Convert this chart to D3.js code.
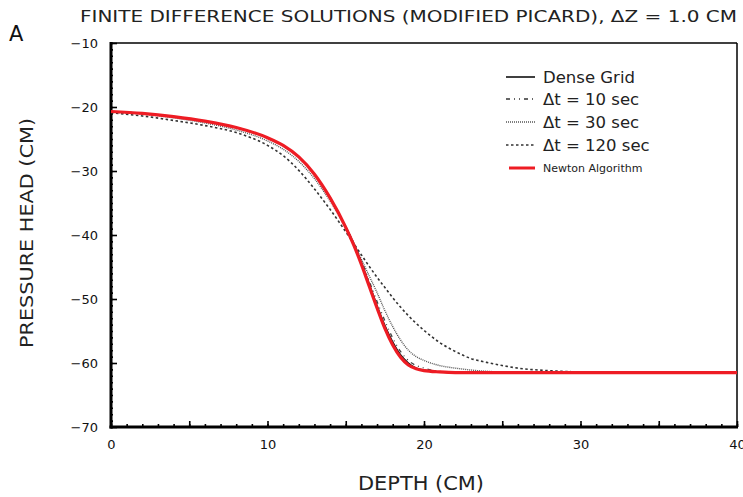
<!DOCTYPE html>
<html><head><meta charset="utf-8">
<script src="https://cdn.jsdelivr.net/npm/d3@7"></script>
<style>body{margin:0;background:#fff}svg{display:block}</style>
</head><body>
<svg id="c" width="743" height="497"></svg>
<script>
// ---- data ----
const newtonX = [0,2,4,6,8,10,11,12,13,14,15,15.5,16,16.5,17,17.5,18,18.5,19,19.5,20,21,22,24,28,32,36,40];
const newtonY = [-20.7,-21.0,-21.5,-22.2,-23.2,-24.8,-26.0,-27.8,-30.5,-34.2,-38.8,-41.5,-44.6,-48.0,-51.4,-54.6,-57.2,-59.1,-60.3,-60.9,-61.2,-61.4,-61.5,-61.5,-61.5,-61.5,-61.5,-61.5];
const denseX = [0,2,4,6,8,10,11,12,13,14,15,15.5,16,16.5,17,17.5,18,18.5,19,19.5,20,21,22,24,28,32,36,40];
const denseY = [-20.7,-21.0,-21.5,-22.2,-23.2,-24.8,-26.0,-27.8,-30.5,-34.2,-38.7,-41.3,-44.3,-47.6,-51.0,-54.1,-56.7,-58.7,-60.0,-60.8,-61.1,-61.4,-61.5,-61.5,-61.5,-61.5,-61.5,-61.5];
const dt10X = [0,2,4,6,8,10,11,12,13,14,15,15.5,16,16.5,17,17.5,18,18.5,19,20,21,22,24,28,32,36,40];
const dt10Y = [-20.7,-21.0,-21.5,-22.2,-23.2,-24.9,-26.1,-27.9,-30.6,-34.3,-38.7,-41.2,-44.0,-47.2,-50.4,-53.4,-56.1,-58.2,-59.6,-60.8,-61.3,-61.5,-61.5,-61.5,-61.5,-61.5,-61.5];
const dt30X = [0,2,4,6,8,10,11,12,13,14,15,15.5,16,16.5,17,17.5,18,18.5,19,19.5,20,21,22,23,25,28,32,36,40];
const dt30Y = [-20.8,-21.1,-21.7,-22.5,-23.6,-25.3,-26.6,-28.5,-31.2,-34.7,-38.9,-41.2,-43.8,-46.4,-49.0,-51.8,-54.3,-56.4,-58.0,-59.0,-59.6,-60.4,-60.8,-61.1,-61.4,-61.5,-61.5,-61.5,-61.5];
const dt120X = [0,2,4,6,8,10,11,12,13,14,15,15.5,16,16.5,17,17.5,18,19,20,21,22,23,24,25,26,28,30,33,36,40];
const dt120Y = [-20.9,-21.4,-22.1,-22.9,-24.0,-26.0,-27.6,-29.9,-32.8,-36.0,-39.5,-41.3,-43.1,-44.9,-46.6,-48.2,-49.8,-52.6,-54.9,-56.8,-58.2,-59.3,-59.9,-60.4,-60.8,-61.2,-61.4,-61.5,-61.5,-61.5];

const xTicks = [0,10,20,30,40];
const yTicks = [-10,-20,-30,-40,-50,-60,-70];
const legendLabels = ["Dense Grid","\u0394t = 10 sec","\u0394t = 30 sec","\u0394t = 120 sec","Newton Algorithm"];
const titleText = "FINITE DIFFERENCE SOLUTIONS (MODIFIED PICARD), \u0394Z = 1.0 CM";

// ---- drawing ----
const svg = d3.select("#c");
const L = 111, R = 737, T = 43, B = 427;
const x = d3.scaleLinear().domain([0,40]).range([L,R]);
const y = d3.scaleLinear().domain([-70,-10]).range([B,T]);
const font = "'DejaVu Sans', sans-serif";

// frame top/right
svg.append("line").attr("x1",L).attr("x2",R).attr("y1",T).attr("y2",T).attr("stroke","#000").attr("stroke-width",1.5);
svg.append("line").attr("x1",R).attr("x2",R).attr("y1",T).attr("y2",B).attr("stroke","#000").attr("stroke-width",1.5);

// axes (inward ticks)
const xMinor = svg.append("g").attr("transform",`translate(0,${B})`)
  .call(d3.axisTop(x).tickValues(d3.range(0,41,1)).tickSize(3).tickFormat(""));
const xMajor = svg.append("g").attr("transform",`translate(0,${B})`)
  .call(d3.axisTop(x).tickValues(d3.range(0,41,5)).tickSize(6).tickFormat(""));
const xLab = svg.append("g").attr("transform",`translate(0,${B})`)
  .call(d3.axisBottom(x).tickValues(xTicks).tickSize(0).tickPadding(13).tickFormat(d3.format("d")));
const yMinor = svg.append("g").attr("transform",`translate(${L},0)`)
  .call(d3.axisRight(y).tickValues(d3.range(-70,-9,1)).tickSize(2).tickFormat(""));
const yMajor = svg.append("g").attr("transform",`translate(${L},0)`)
  .call(d3.axisRight(y).tickValues(yTicks).tickSize(6).tickFormat(""));
const yLab = svg.append("g").attr("transform",`translate(${L},0)`)
  .call(d3.axisLeft(y).tickValues(yTicks).tickSize(0).tickPadding(13).tickFormat(d => d3.format("d")(d).replace("-","\u2212")));
[xMinor,xMajor,xLab,yMinor,yMajor,yLab].forEach(g => {
  g.select(".domain").remove();
  g.selectAll("line").attr("stroke","#000").attr("stroke-width",1.6);
  g.selectAll("text").attr("font-family",font).attr("font-size",13).attr("fill","#111");
});
svg.append("line").attr("x1",L).attr("x2",L).attr("y1",T-1).attr("y2",B+1.5).attr("stroke","#000").attr("stroke-width",3);
svg.append("line").attr("x1",L-1.5).attr("x2",R+1).attr("y1",B).attr("y2",B).attr("stroke","#000").attr("stroke-width",3);

// series
const line = d3.line().x(d=>x(d[0])).y(d=>y(d[1])).curve(d3.curveMonotoneX);
const zip = (a,b) => a.map((v,i)=>[v,b[i]]);
const series = [
  {xs:dt120X, ys:dt120Y, stroke:"#333", w:1.6, dash:"2.5,2.5"},
  {xs:dt30X, ys:dt30Y, stroke:"#555", w:1.4, dash:"1,1"},
  {xs:dt10X, ys:dt10Y, stroke:"#444", w:1.3, dash:"4,4,1,4,1,4"},
  {xs:denseX, ys:denseY, stroke:"#111", w:1.4, dash:null},
  {xs:newtonX, ys:newtonY, stroke:"#ee1c24", w:3.2, dash:null}
];
series.forEach(s => {
  svg.append("path").attr("d", line(zip(s.xs,s.ys))).attr("fill","none")
    .attr("stroke",s.stroke).attr("stroke-width",s.w).attr("stroke-dasharray",s.dash);
});

// legend
const legStyles = [
  {stroke:"#111", w:1.6, dash:null, size:16.5},
  {stroke:"#333", w:1.4, dash:"4,4,1,4,1,4", size:16.5},
  {stroke:"#555", w:1.4, dash:"1,1", size:16.5},
  {stroke:"#333", w:1.4, dash:"2.5,2.5", size:16.5},
  {stroke:"#ee1c24", w:3, dash:null, size:11}
];
const legY = [77,99,122,145,168];
legendLabels.forEach((t,i) => {
  const s = legStyles[i];
  const x1 = i===4 ? 509 : 506;
  svg.append("line").attr("x1",x1).attr("x2",535).attr("y1",legY[i]).attr("y2",legY[i])
    .attr("stroke",s.stroke).attr("stroke-width",s.w).attr("stroke-dasharray",s.dash);
  svg.append("text").attr("x",543).attr("y",legY[i]).attr("dy","0.36em")
    .attr("font-family",font).attr("font-size",s.size).attr("fill","#222").text(t);
});

// titles
svg.append("text").attr("x",80).attr("y",22).attr("font-family",font).attr("font-size",16)
  .attr("textLength",657).attr("lengthAdjust","spacingAndGlyphs").attr("fill","#222").text(titleText);
svg.append("text").attr("x",9).attr("y",41).attr("font-family",font).attr("font-size",21).attr("fill","#111").text("A");
svg.append("text").attr("x",421).attr("y",490).attr("text-anchor","middle").attr("font-family",font)
  .attr("font-size",20).attr("textLength",126).attr("lengthAdjust","spacingAndGlyphs").attr("fill","#222").text("DEPTH (CM)");
svg.append("text").attr("transform",`translate(33,233) rotate(-90)`).attr("text-anchor","middle")
  .attr("font-family",font).attr("font-size",18).attr("textLength",230).attr("lengthAdjust","spacingAndGlyphs")
  .attr("fill","#222").text("PRESSURE HEAD (CM)");
</script>
</body></html>
